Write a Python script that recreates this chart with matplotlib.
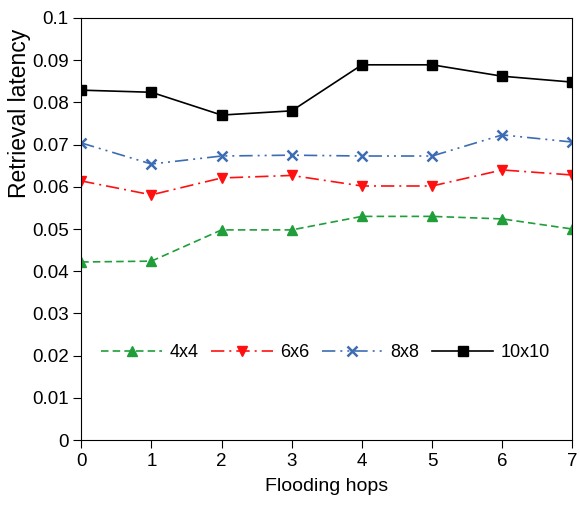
import matplotlib
matplotlib.use("Agg")
import matplotlib.pyplot as plt

hops = [0, 1, 2, 3, 4, 5, 6, 7]
lat_4x4 = [0.0422, 0.0424, 0.0498, 0.0498, 0.0530, 0.0530, 0.0524, 0.0500]
lat_6x6 = [0.0614, 0.0581, 0.0621, 0.0627, 0.0602, 0.0602, 0.0640, 0.0628]
lat_8x8 = [0.0704, 0.0654, 0.0673, 0.0675, 0.0673, 0.0673, 0.0723, 0.0706]
lat_10x10 = [0.0829, 0.0824, 0.0770, 0.0780, 0.0889, 0.0889, 0.0862, 0.0848]
labels = ["4x4", "6x6", "8x8", "10x10"]
yticks = [0, 0.01, 0.02, 0.03, 0.04, 0.05, 0.06, 0.07, 0.08, 0.09, 0.1]
ytick_labels = ["0", "0.01", "0.02", "0.03", "0.04", "0.05", "0.06", "0.07", "0.08", "0.09", "0.1"]

plt.rcParams["font.family"] = ["Liberation Sans", "DejaVu Sans"]

fig = plt.figure(figsize=(5.8, 5.13), dpi=100)
ax = fig.add_axes([0.14, 0.142, 0.847, 0.823])

ax.plot(hops, lat_4x4, color="#1f9e3a", ls=(0, (4.5, 2.5)), lw=1.2, marker="^", ms=7.5, label=labels[0])
ax.plot(hops, lat_6x6, color="#ff1010", ls=(0, (8, 3, 1.2, 3)), lw=1.2, marker="v", ms=7.5, label=labels[1])
ax.plot(hops, lat_8x8, color="#3c6db3", ls=(0, (8, 3, 1.2, 3, 1.2, 3)), lw=1.2, marker="x", ms=7.5, mew=1.8, label=labels[2])
ax.plot(hops, lat_10x10, color="black", ls="-", lw=1.2, marker="s", ms=7.5, label=labels[3])

ax.set_xlim(0, 7)
ax.set_ylim(0, 0.1)
ax.set_xticks(hops)
ax.set_yticks(yticks)
ax.set_yticklabels(ytick_labels)
ax.tick_params(labelsize=13.5, direction="out", length=6, top=False, right=False, pad=3)
ax.set_xlabel("Flooding hops", fontsize=14, labelpad=6)
ax.set_ylabel("Retrieval latency", fontsize=16.5)
ax.yaxis.set_label_coords(-0.102, 0.775)

ax.legend(loc="center", bbox_to_anchor=(0.497, 0.208), ncol=4, frameon=False,
          fontsize=13, handlelength=3.4, columnspacing=0.7, handletextpad=0.4)

fig.savefig("out.png", dpi=100)
